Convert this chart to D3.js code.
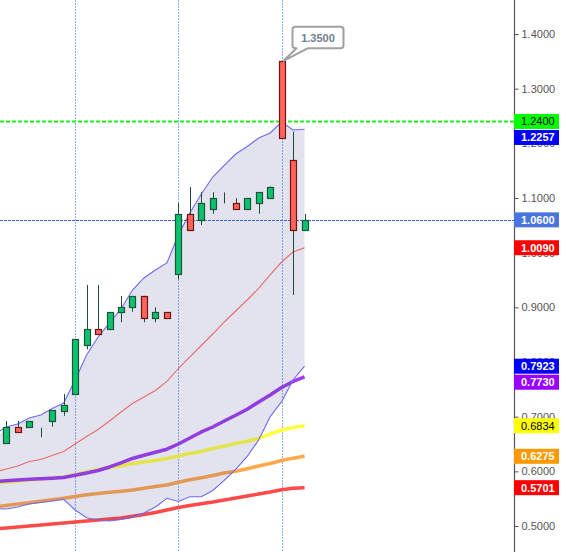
<!DOCTYPE html>
<html>
<head>
<meta charset="utf-8">
<script src="https://cdn.jsdelivr.net/npm/d3@7"></script>
<style>
  body { margin: 0; background: #fff; }
  svg { display: block; font-family: "Liberation Sans", Arial, sans-serif; }
</style>
</head>
<body>
<svg id="chart" width="566" height="552"></svg>
<script>
// candles, index 0..26
const opens  = [0.6513,0.6806,0.6811,0.6714,0.6912,0.7109,0.7410,0.8306,0.8598,0.8598,0.8909,0.9001,0.9202,0.8799,0.8909,0.9604,1.0702,1.0598,1.0793,1.0903,1.0903,1.0793,1.0903,1.0995,1.3500,1.1695,1.0409];
const closes = [0.6806,0.6714,0.6916,0.6714,0.7117,0.7213,0.8415,0.8598,0.8507,0.8909,0.9001,0.9202,0.8799,0.8909,0.8799,1.0702,1.0409,1.0903,1.0995,1.0903,1.0793,1.0995,1.1104,1.1201,1.2092,1.0409,1.0600];
const highs  = [0.6921,0.6921,0.6920,0.6798,0.7120,0.7415,0.8420,0.9409,0.9409,0.8910,0.9208,0.9210,0.9210,0.9001,0.8910,1.0909,1.1201,1.1104,1.1104,1.1104,1.0995,1.1000,1.1110,1.1210,1.3500,1.2213,1.0707];
const lows   = [0.6500,0.6705,0.6810,0.6623,0.6817,0.7018,0.7400,0.8232,0.8500,0.8590,0.8726,0.8920,0.8726,0.8726,0.8790,0.9513,1.0400,1.0506,1.0713,1.0900,1.0790,1.0790,1.0713,1.0990,1.2090,0.9226,1.0400];

// indicators, index -1..26
const bbUpper  = [0.6683,0.6811,0.6866,0.6976,0.7031,0.7150,0.7250,0.7671,0.8128,0.8458,0.8714,0.8970,0.9317,0.9537,0.9683,0.9811,1.0323,1.0726,1.1073,1.1384,1.1595,1.1805,1.1942,1.2098,1.2189,1.2390,1.2244,1.2257];
const bbMiddle = [0.5988,0.6043,0.6098,0.6180,0.6217,0.6290,0.6363,0.6500,0.6637,0.6766,0.6921,0.7086,0.7241,0.7360,0.7479,0.7644,0.7881,0.8092,0.8302,0.8512,0.8732,0.8933,0.9134,0.9345,0.9592,0.9829,1.0012,1.0090];
const bbLower  = [0.5320,0.5311,0.5348,0.5403,0.5430,0.5458,0.5489,0.5293,0.5152,0.5110,0.5092,0.5119,0.5156,0.5238,0.5348,0.5507,0.5448,0.5536,0.5536,0.5650,0.5833,0.6034,0.6272,0.6573,0.7000,0.7274,0.7671,0.7923];
const maPurple = [0.5814,0.5829,0.5842,0.5855,0.5864,0.5875,0.5886,0.5928,0.5970,0.6016,0.6080,0.6156,0.6235,0.6294,0.6350,0.6405,0.6500,0.6610,0.6720,0.6811,0.6921,0.7025,0.7137,0.7269,0.7397,0.7534,0.7644,0.7730];
const maYellow = [0.5787,0.5805,0.5823,0.5842,0.5860,0.5878,0.5897,0.5942,0.5988,0.6034,0.6070,0.6098,0.6144,0.6171,0.6198,0.6235,0.6281,0.6326,0.6363,0.6418,0.6464,0.6509,0.6551,0.6601,0.6683,0.6756,0.6802,0.6834];
const maOrange = [0.5351,0.5375,0.5403,0.5425,0.5454,0.5481,0.5509,0.5540,0.5571,0.5595,0.5617,0.5637,0.5659,0.5690,0.5721,0.5750,0.5800,0.5847,0.5884,0.5924,0.5970,0.6001,0.6047,0.6098,0.6144,0.6198,0.6241,0.6275];
const maRed    = [0.4949,0.4964,0.4982,0.5000,0.5019,0.5037,0.5055,0.5073,0.5092,0.5110,0.5128,0.5147,0.5178,0.5211,0.5247,0.5293,0.5339,0.5375,0.5408,0.5439,0.5476,0.5512,0.5549,0.5586,0.5622,0.5662,0.5690,0.5701];

const yTicks = [0.5, 0.6, 0.7, 0.8, 0.9, 1.0, 1.1, 1.2, 1.3, 1.4];
const separators = [6, 15, 24];
const levelLine = 1.24;
const lastPrice = closes[closes.length - 1];
const peakIdx = 24;

const svg = d3.select('#chart');
const width = +svg.attr('width');
const height = +svg.attr('height');
const axisX = 514;

const x = d3.scaleLinear().domain([-0.55, 44.26]).range([0, axisX]);
const y = d3.scaleLinear().domain([0.5, 1.4]).range([526, 34]);

const ind = arr => arr.map((v, i) => ({ i: i - 1, v }));

// period separators
svg.append('g').selectAll('line').data(separators).enter().append('line')
  .attr('x1', d => Math.round(x(d)) + 0.5).attr('x2', d => Math.round(x(d)) + 0.5)
  .attr('y1', 0).attr('y2', height)
  .attr('stroke', '#8fb0ee').attr('stroke-width', 1).attr('stroke-dasharray', '2,1');

const line = d3.line().x(d => x(d.i)).y(d => y(d.v));

// moving averages
const mas = [
  { data: maRed, color: '#ff4a4a', w: 3.5 },
  { data: maOrange, color: '#ffa94a', w: 3.5 },
  { data: maYellow, color: '#ffff40', w: 3.5 },
  { data: maPurple, color: '#a03cf0', w: 3.5 }
];
svg.append('g').selectAll('path').data(mas).enter().append('path')
  .attr('d', d => line(ind(d.data)))
  .attr('fill', 'none')
  .attr('stroke', d => d.color)
  .attr('stroke-width', d => d.w)
  .attr('stroke-linejoin', 'round');

// bollinger band
const band = bbUpper.map((u, i) => ({ i: i - 1, u, l: bbLower[i] })).filter(d => d.i >= -1);
const area = d3.area().x(d => x(Math.max(d.i, -0.55))).y0(d => y(d.l)).y1(d => y(d.u));
svg.append('path')
  .attr('d', area(band))
  .attr('fill', 'rgba(70,70,150,0.15)');

svg.append('path').attr('d', line(ind(bbUpper))).attr('fill', 'none').attr('stroke', '#6a6af5').attr('stroke-width', 1.1);
svg.append('path').attr('d', line(ind(bbLower))).attr('fill', 'none').attr('stroke', '#6a6af5').attr('stroke-width', 1.1);
svg.append('path').attr('d', line(ind(bbMiddle))).attr('fill', 'none').attr('stroke', '#ec6a6a').attr('stroke-width', 1.1);

// horizontal level + last price
svg.append('line')
  .attr('x1', 0).attr('x2', axisX).attr('y1', y(levelLine)).attr('y2', y(levelLine))
  .attr('stroke', '#22ee22').attr('stroke-width', 2).attr('stroke-dasharray', '4,2');
svg.append('line')
  .attr('x1', 0).attr('x2', axisX).attr('y1', Math.round(y(lastPrice)) + 0.5).attr('y2', Math.round(y(lastPrice)) + 0.5)
  .attr('stroke', '#3a66e8').attr('stroke-width', 1).attr('stroke-dasharray', '3,1');

// candles
const candles = opens.map((o, i) => ({ i, o, c: closes[i], h: highs[i], l: lows[i] }));
const bodyW = 6;
const cg = svg.append('g').selectAll('g').data(candles).enter().append('g');
cg.append('line')
  .attr('x1', d => Math.round(x(d.i)) + 0.5).attr('x2', d => Math.round(x(d.i)) + 0.5)
  .attr('y1', d => y(d.h)).attr('y2', d => y(d.l))
  .attr('stroke', '#1d4d33').attr('stroke-width', 1);
cg.append('rect')
  .attr('x', d => Math.round(x(d.i)) - bodyW / 2 + 0.5)
  .attr('y', d => Math.round(y(Math.max(d.o, d.c))) + 0.5)
  .attr('width', bodyW)
  .attr('height', d => Math.max(0, Math.round(y(Math.min(d.o, d.c))) - Math.round(y(Math.max(d.o, d.c)))))
  .attr('fill', d => d.c >= d.o ? '#0bc36f' : '#ff6458')
  .attr('stroke', d => d.c >= d.o ? '#1d5535' : '#6b1515')
  .attr('stroke-width', 1.2);

// peak callout
const px = Math.round(x(peakIdx)) + 0.5;
const py = y(highs[peakIdx]);
const bx0 = px + 10, bx1 = px + 61, by0 = py - 34.5, by1 = py - 13;
const r = 3;
const callout = d3.path();
callout.moveTo(bx0 + r, by0);
callout.lineTo(bx1 - r, by0);
callout.quadraticCurveTo(bx1, by0, bx1, by0 + r);
callout.lineTo(bx1, by1 - r);
callout.quadraticCurveTo(bx1, by1, bx1 - r, by1);
callout.lineTo(px + 25, by1);
callout.lineTo(px + 1, py - 0.5);
callout.lineTo(px + 14, by1);
callout.lineTo(bx0 + r, by1);
callout.quadraticCurveTo(bx0, by1, bx0, by1 - r);
callout.lineTo(bx0, by0 + r);
callout.quadraticCurveTo(bx0, by0, bx0 + r, by0);
callout.closePath();
svg.append('path').attr('d', callout.toString())
  .attr('fill', '#fff').attr('stroke', '#a0a0a0').attr('stroke-width', 2).attr('stroke-linejoin', 'round');
svg.append('text')
  .attr('x', (bx0 + bx1) / 2).attr('y', (by0 + by1) / 2).attr('dy', '0.36em')
  .attr('text-anchor', 'middle')
  .attr('font-size', 11).attr('font-weight', 'bold').attr('fill', '#6f8090')
  .text(d3.format('.4f')(highs[peakIdx]));

// right axis
const yAxis = d3.axisRight(y).tickValues(yTicks).tickFormat(d3.format('.4f')).tickSize(4).tickPadding(3);
const axisG = svg.append('g').attr('transform', `translate(${axisX + 0.5},0)`).call(yAxis);
axisG.select('.domain').remove();
axisG.selectAll('.tick line').attr('stroke', '#555');
axisG.selectAll('.tick text').attr('fill', '#555').attr('font-size', 11).attr('font-family', '"Liberation Sans", Arial, sans-serif');
svg.append('line').attr('x1', axisX + 0.5).attr('x2', axisX + 0.5).attr('y1', 0).attr('y2', height)
  .attr('stroke', '#555').attr('stroke-width', 1.2);

// value labels on the axis
const labels = [
  { v: levelLine, bg: '#00ff00', fg: '#000' },
  { v: bbUpper[bbUpper.length - 1], bg: '#0000ff', fg: '#fff' },
  { v: lastPrice, bg: '#4a74e0', fg: '#fff' },
  { v: bbMiddle[bbMiddle.length - 1], bg: '#ff0000', fg: '#fff' },
  { v: bbLower[bbLower.length - 1], bg: '#0000ff', fg: '#fff' },
  { v: maPurple[maPurple.length - 1], bg: '#9900ff', fg: '#fff' },
  { v: maYellow[maYellow.length - 1], bg: '#ffff00', fg: '#000' },
  { v: maOrange[maOrange.length - 1], bg: '#ff9900', fg: '#fff' },
  { v: maRed[maRed.length - 1], bg: '#ff0000', fg: '#fff' }
];
const boxH = 15;
labels.sort((a, b) => y(a.v) - y(b.v));
let prevBottom = -Infinity;
labels.forEach(d => {
  let top = y(d.v) - boxH / 2;
  if (top < prevBottom + 1) top = prevBottom + 1;
  d.top = top;
  prevBottom = top + boxH;
});
const lg = svg.append('g').selectAll('g').data(labels).enter().append('g');
lg.append('rect')
  .attr('x', axisX).attr('y', d => d.top).attr('width', 45).attr('height', boxH)
  .attr('fill', d => d.bg);
lg.append('text')
  .attr('x', axisX + 7).attr('y', d => d.top + boxH / 2).attr('dy', '0.36em')
  .attr('font-size', 11).attr('font-weight', d => d.fg === '#fff' ? 'bold' : 'normal')
  .attr('fill', d => d.fg)
  .text(d => d3.format('.4f')(d.v));
</script>
</body>
</html>
